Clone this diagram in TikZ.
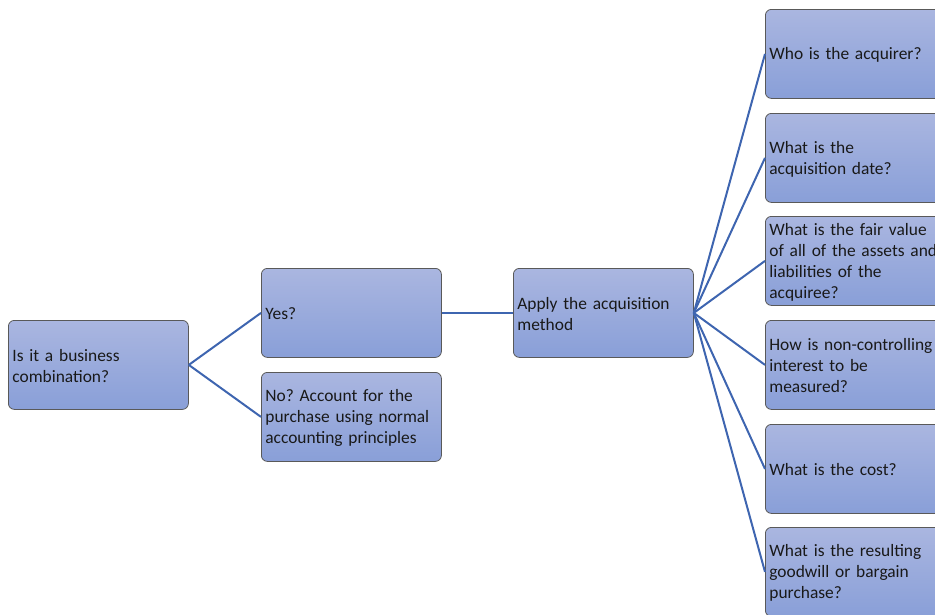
\documentclass[tikz,border=0pt]{standalone}
\usepackage{fontspec}
\setmainfont{Carlito}
\frenchspacing
\begin{document}
\begin{tikzpicture}[x=1pt,y=-1pt,
  qbox/.style={draw=black!65, line width=0.8pt, rounded corners=6pt,
    top color=boxtop, bottom color=boxbot,
    minimum width=180pt, minimum height=89pt, inner sep=0pt,
    anchor=north west, text width=178pt, align=left,
    font=\fontsize{17.4}{21}\selectfont, text=black!90},
  link/.style={draw=linkblue, line width=2pt}]
\definecolor{boxtop}{RGB}{170,182,224}
\definecolor{boxbot}{RGB}{137,159,216}
\definecolor{linkblue}{RGB}{62,101,176}
\useasboundingbox (0,0) rectangle (935,614);
\clip (0,0) rectangle (935,614);
% decision tree: question, yes/no branches, then the acquisition method steps
\node[qbox] (q)   at (8,320)   {\hspace*{3pt}\parbox[c]{175pt}{\vspace*{2pt}Is it a business\\combination?}};
\node[qbox] (yes) at (261,268) {\hspace*{3pt}\parbox[c]{175pt}{\vspace*{2pt}Yes?}};
\node[qbox] (no)  at (261,372) {\hspace*{3pt}\parbox[c]{175pt}{\vspace*{2pt}No? Account for the\\purchase using normal\\accounting principles}};
\node[qbox] (am)  at (513,268) {\hspace*{3pt}\parbox[c]{175pt}{\vspace*{2pt}Apply the acquisition\\method}};
\node[qbox] (s1)  at (765,9)   {\hspace*{3pt}\parbox[c]{175pt}{\vspace*{2pt}Who is the acquirer?}};
\node[qbox] (s2)  at (765,113) {\hspace*{3pt}\parbox[c]{175pt}{\vspace*{2pt}What is the\\acquisition date?}};
\node[qbox] (s3)  at (765,216) {\hspace*{3pt}\parbox[c]{175pt}{\vspace*{2pt}What is the fair value\\of all of the assets and\\liabilities of the\\acquiree?}};
\node[qbox] (s4)  at (765,320) {\hspace*{3pt}\parbox[c]{175pt}{\vspace*{2pt}How is non-controlling\\interest to be\\measured?}};
\node[qbox] (s5)  at (765,424) {\hspace*{3pt}\parbox[c]{175pt}{\vspace*{2pt}What is the cost?}};
\node[qbox] (s6)  at (765,527) {\hspace*{3pt}\parbox[c]{175pt}{\vspace*{2pt}What is the resulting\\goodwill or bargain\\purchase?}};
% connectors
\draw[link] (q.east) -- (yes.west);
\draw[link] (q.east) -- (no.west);
\draw[link] (yes.east) -- (am.west);
\foreach \s in {s1,s2,s3,s4,s5,s6}
  \draw[link] (am.east) -- (\s.west);
\end{tikzpicture}
\end{document}
